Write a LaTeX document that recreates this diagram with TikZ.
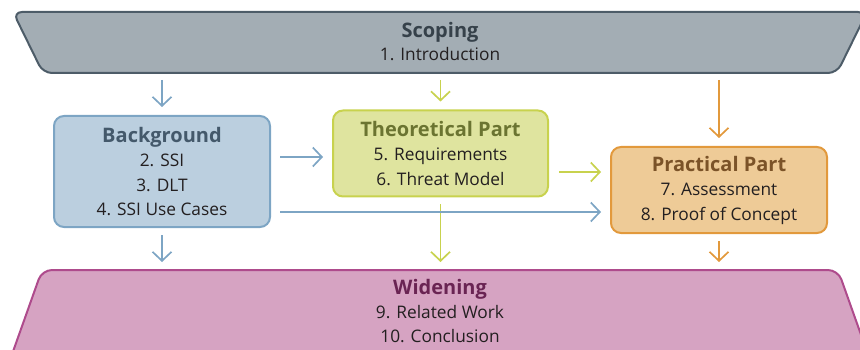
\documentclass[tikz,border=0pt]{standalone}
\usepackage{fontspec}
\setmainfont{Open Sans}
\usetikzlibrary{arrows.meta}
\definecolor{scfill}{HTML}{A3ADB4}
\definecolor{scdraw}{HTML}{4D5C68}
\definecolor{sctext}{HTML}{36414A}
\definecolor{bgfill}{HTML}{BBCFDF}
\definecolor{bgdraw}{HTML}{7DA5C4}
\definecolor{bgtext}{HTML}{44596B}
\definecolor{thfill}{HTML}{DFE49F}
\definecolor{thdraw}{HTML}{C8D24E}
\definecolor{thtext}{HTML}{6B7431}
\definecolor{prfill}{HTML}{EECB97}
\definecolor{prdraw}{HTML}{E2993C}
\definecolor{prtext}{HTML}{7B5328}
\definecolor{wdfill}{HTML}{D6A3C2}
\definecolor{wddraw}{HTML}{AE4B8C}
\definecolor{wdtext}{HTML}{6A2453}
\definecolor{bodytext}{HTML}{231F20}
\tikzset{
  box/.style={rounded corners=10pt, line width=2pt, minimum width=216pt, inner sep=0pt,
    align=center, text=bodytext, font=\fontsize{17.3}{24.5}\selectfont},
  conn/.style={line width=1.7pt, -{Straight Barb[length=9pt,width=19pt]}, shorten <=7pt, shorten >=8pt},
  ttl/.style={font=\fontsize{20}{24.5}\selectfont\bfseries}
}
\begin{document}
\begin{tikzpicture}[x=1pt,y=-1pt]
\useasboundingbox (0,0) rectangle (860,350);
\clip (0,0) rectangle (860,350);
% Scoping trapezoid
\draw[fill=scfill, draw=scdraw, line width=2pt, rounded corners=9pt]
  (13,12) -- (867,12) -- (837,73) -- (43,73) -- cycle;
\node[align=center, text=bodytext, font=\fontsize{17.3}{23}\selectfont] (scope) at (440,41.5)
  {\textcolor{sctext}{\fontsize{20}{23}\selectfont\bfseries Scoping}\\1. Introduction};
\coordinate (scopeB) at (440,73);
% Widening trapezoid
\draw[fill=wdfill, draw=wddraw, line width=2pt, rounded corners=10pt]
  (42,270) -- (838,270) -- (870,360) -- (10,360) -- cycle;
\node[align=center, text=bodytext, font=\fontsize{17.3}{24}\selectfont] (wid) at (440,311.5)
  {\textcolor{wdtext}{\fontsize{20}{24}\selectfont\bfseries Widening}\\9. Related Work\\10. Conclusion};
\coordinate (widT) at (440,270);
% Boxes
\node[box, fill=bgfill, draw=bgdraw, minimum height=111pt] (bg) at (162,171.5)
  {\textcolor{bgtext}{\fontsize{20}{24.5}\selectfont\bfseries Background}\\2. SSI\\3. DLT\\4. SSI Use Cases};
\node[box, fill=thfill, draw=thdraw, minimum width=215pt, minimum height=86pt] (th) at (440.5,153.5)
  {\textcolor{thtext}{\fontsize{20}{24.5}\selectfont\bfseries Theoretical Part}\\5. Requirements\\6. Threat Model};
\node[box, fill=prfill, draw=prdraw, minimum height=86pt] (pr) at (719,190)
  {\textcolor{prtext}{\fontsize{20}{24.5}\selectfont\bfseries Practical Part}\\7. Assessment\\8. Proof of Concept};
% Connectors
\draw[conn, bgdraw] (scopeB -| bg.north) -- (bg.north);
\draw[conn, thdraw] (scopeB -| th.north) -- (th.north);
\draw[conn, prdraw] (scopeB -| pr.north) -- (pr.north);
\draw[conn, bgdraw] (bg.south) -- (widT -| bg.south);
\draw[conn, thdraw] (th.south) -- (widT -| th.south);
\draw[conn, prdraw] (pr.south) -- (widT -| pr.south);
\draw[conn, bgdraw, shorten <=9pt, shorten >=9pt] (bg.east |- 0,157) -- (th.west |- 0,157);
\draw[conn, thdraw, shorten <=10pt, shorten >=9pt] (th.east |- 0,172) -- (pr.west |- 0,172);
\draw[conn, bgdraw, shorten <=9pt, shorten >=9pt] (bg.east |- 0,212) -- (pr.west |- 0,212);
\end{tikzpicture}
\end{document}
